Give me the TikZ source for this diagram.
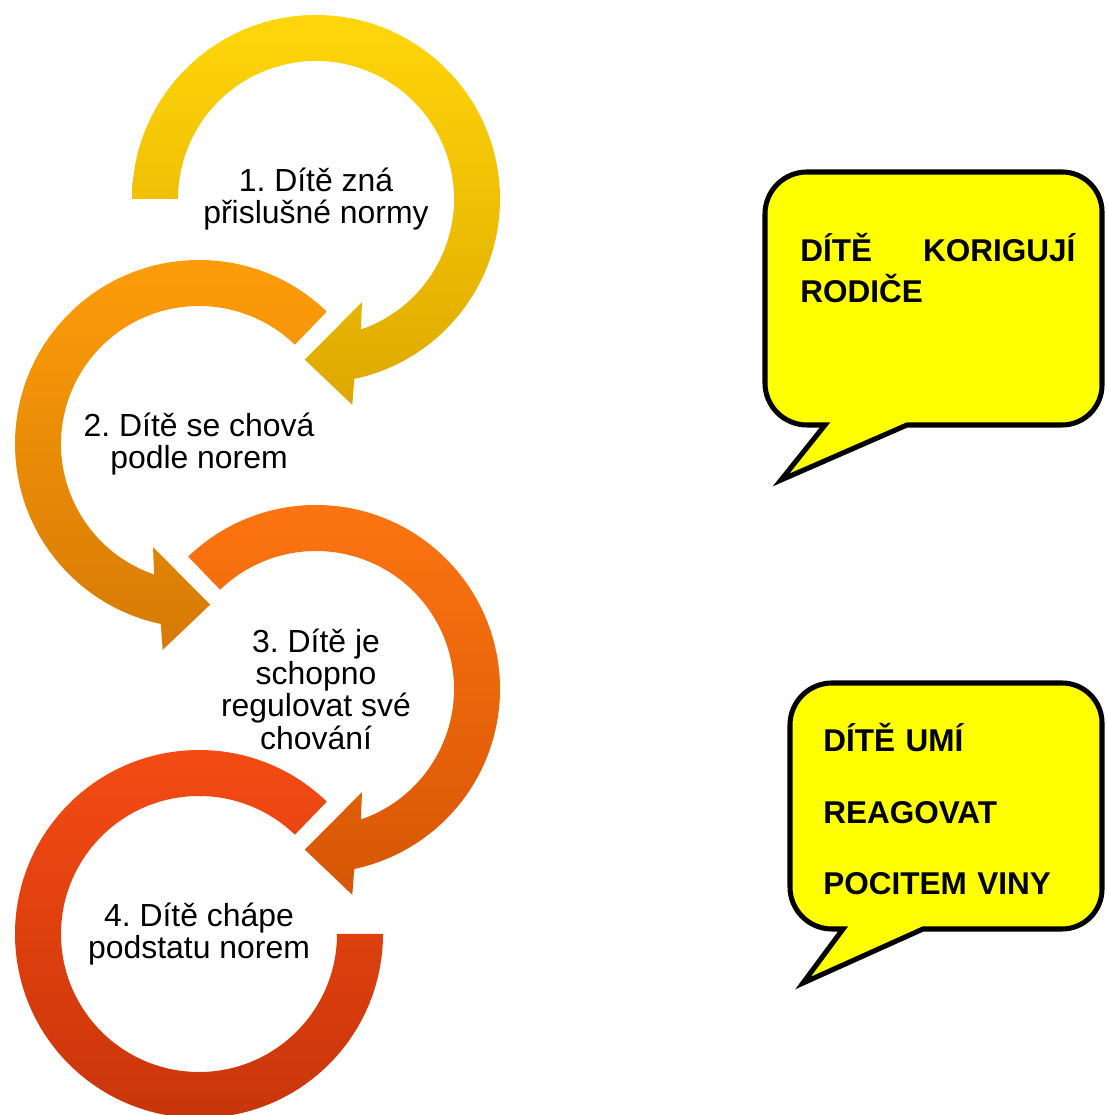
\documentclass[tikz,border=0pt]{standalone}
\usepackage{fontspec}
\setmainfont{Liberation Sans}
\usepackage{tikz}
\definecolor{ringA}{RGB}{255,214,10}
\definecolor{ringAd}{RGB}{222,168,0}
\definecolor{ringB}{RGB}{255,158,10}
\definecolor{ringBd}{RGB}{214,122,5}
\definecolor{ringC}{RGB}{255,118,18}
\definecolor{ringCd}{RGB}{214,86,5}
\definecolor{ringD}{RGB}{246,76,20}
\definecolor{ringDd}{RGB}{198,52,10}
\definecolor{notec}{RGB}{255,255,0}
\frenchspacing

\begin{document}
\begin{tikzpicture}[x=0.025cm, y=0.025cm,
  every node/.style={font=\fontsize{22.7}{23}\selectfont},
  stage/.style={align=center, inner sep=0pt},
  note/.style={draw=black, line width=3.6pt, fill=notec, line join=miter},
  notetext/.style={font=\bfseries\fontsize{22.4}{29}\selectfont, anchor=base west, inner sep=0pt}]
  \useasboundingbox (0,0) rectangle (1106,1115);
  \coordinate (c1) at (316,916);
  \coordinate (c2) at (199,671);
  \coordinate (c3) at (316,426);
  \coordinate (c4) at (199,181);
  % circular arrows
  \begin{scope}[shift={(c1)}]
    \shade[top color=ringA, bottom color=ringAd]
      (180:184) arc[start angle=180, end angle=-78, radius=184]
      -- (-80:209) -- (-94:161) -- (-66:113) -- (-71:138)
      arc[start angle=-71, end angle=180, radius=138] -- cycle;
  \end{scope}
  \begin{scope}[shift={(c2)}]
    \shade[top color=ringB, bottom color=ringBd]
      (46:184) arc[start angle=46, end angle=258, radius=184]
      -- (260:209) -- (274:161) -- (246:113) -- (251:138)
      arc[start angle=251, end angle=46, radius=138] -- cycle;
  \end{scope}
  \begin{scope}[shift={(c3)}]
    \shade[top color=ringC, bottom color=ringCd]
      (134:184) arc[start angle=134, end angle=-78, radius=184]
      -- (-80:209) -- (-94:161) -- (-66:113) -- (-71:138)
      arc[start angle=-71, end angle=134, radius=138] -- cycle;
  \end{scope}
  \begin{scope}[shift={(c4)}]
    \shade[top color=ringD, bottom color=ringDd]
      (46:184) arc[start angle=46, end angle=360, radius=184]
      -- (0:138) arc[start angle=360, end angle=46, radius=138] -- cycle;
  \end{scope}
  \node[stage] (s1) at (c1) {1. Dítě zná\\přislušné normy};
  \node[stage] (s2) at (c2) {2. Dítě se chová\\podle norem};
  \node[stage] (s3) at (c3) {3. Dítě je\\schopno\\regulovat své\\chování};
  \node[stage] (s4) at (c4) {4. Dítě chápe\\podstatu norem};
  % speech bubbles
  \draw[note] (825,690) -- (781,635) -- (907,690) -- (1062,690)
    arc[start angle=-90, end angle=0, radius=40] -- (1102,903)
    arc[start angle=0, end angle=90, radius=40] -- (807,943)
    arc[start angle=90, end angle=180, radius=42] -- (765,732)
    arc[start angle=180, end angle=270, radius=42] -- cycle;
  \node[notetext, text width=6.875cm, align=left] (n1) at (800,853)
    {DÍTĚ\hfill KORIGUJÍ\\RODIČE};
  \draw[note] (843,186) -- (803,132) -- (923,186) -- (1062,186)
    arc[start angle=-90, end angle=0, radius=40] -- (1102,392)
    arc[start angle=0, end angle=90, radius=40] -- (832,432)
    arc[start angle=90, end angle=180, radius=42] -- (790,228)
    arc[start angle=180, end angle=270, radius=42] -- cycle;
  \node[notetext, text width=6.5cm, align=left, font=\bfseries\fontsize{22.4}{50.5}\selectfont] (n2) at (823,363)
    {DÍTĚ UMÍ\\REAGOVAT\\POCITEM VINY};
\end{tikzpicture}
\end{document}
